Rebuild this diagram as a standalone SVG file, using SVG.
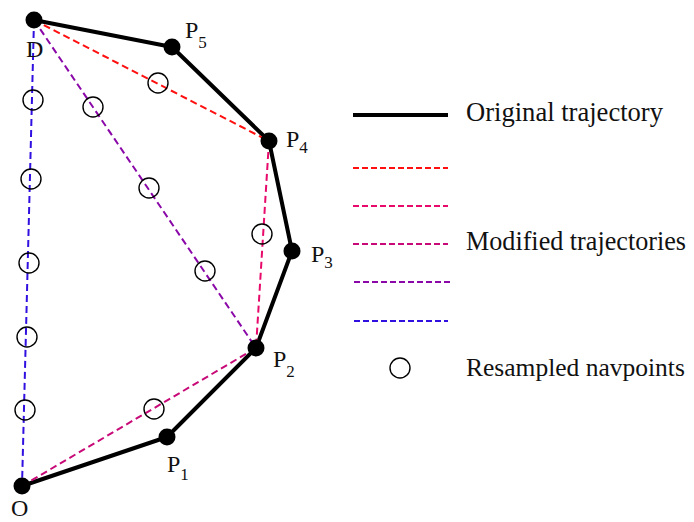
<svg xmlns="http://www.w3.org/2000/svg" width="694" height="522" viewBox="0 0 694 522">
<style>
.orig{stroke:#000;stroke-width:4;fill:none;stroke-linejoin:round}
.dash{stroke-width:2;fill:none;stroke-dasharray:7,4}
.ldash{stroke-width:1.8;fill:none;stroke-dasharray:6,3}
.red{stroke:#ff1010}
.pink{stroke:#e80a6a}
.crim{stroke:#c80a78}
.purp{stroke:#8a08a8}
.blue{stroke:#3010e0}
.nav{fill:none;stroke:#000;stroke-width:1.4}
.dot{fill:#000}
.lbl{font-family:"Liberation Serif","Times New Roman",serif;font-size:24px;fill:#111}
.sub{font-size:17px}
.leg{font-family:"Liberation Serif","Times New Roman",serif;font-size:27px;fill:#111}
</style>
<g id="connectors">
<polyline class="orig" points="22,486 167,437 256,348 292,251 269,141 172,47 34,20"/>
<line class="dash red" x1="34" y1="20" x2="269" y2="141"/>
<line class="dash pink" x1="269" y1="141" x2="256" y2="348"/>
<line class="dash crim" x1="22" y1="486" x2="256" y2="348"/>
<line class="dash purp" x1="34" y1="20" x2="256" y2="348"/>
<line class="dash blue" x1="34" y1="20" x2="22" y2="486"/>
</g>
<g id="navpoints">
<circle class="nav" cx="158" cy="83" r="10"/>
<circle class="nav" cx="33" cy="100" r="10"/>
<circle class="nav" cx="93" cy="107" r="10"/>
<circle class="nav" cx="31" cy="179" r="10"/>
<circle class="nav" cx="149" cy="188" r="10"/>
<circle class="nav" cx="29" cy="263" r="10"/>
<circle class="nav" cx="205" cy="271" r="10"/>
<circle class="nav" cx="262" cy="234" r="10"/>
<circle class="nav" cx="27" cy="337" r="10"/>
<circle class="nav" cx="25" cy="410" r="10"/>
<circle class="nav" cx="154" cy="409" r="10"/>
</g>
<g id="node-D"><circle class="dot" cx="34" cy="20" r="8.5"/><text class="lbl" x="26" y="57">D</text></g>
<g id="node-P5"><circle class="dot" cx="172" cy="47" r="8.5"/><text class="lbl" x="185" y="38">P<tspan class="sub" dy="10">5</tspan></text></g>
<g id="node-P4"><circle class="dot" cx="269" cy="141" r="8.5"/><text class="lbl" x="286" y="147">P<tspan class="sub" dy="6">4</tspan></text></g>
<g id="node-P3"><circle class="dot" cx="292" cy="251" r="8.5"/><text class="lbl" x="311" y="262">P<tspan class="sub" dy="6">3</tspan></text></g>
<g id="node-P2"><circle class="dot" cx="256" cy="348" r="8.5"/><text class="lbl" x="273" y="367">P<tspan class="sub" dy="10">2</tspan></text></g>
<g id="node-P1"><circle class="dot" cx="167" cy="437" r="8.5"/><text class="lbl" x="167" y="472">P<tspan class="sub" dy="8">1</tspan></text></g>
<g id="node-O"><circle class="dot" cx="22" cy="486" r="8.5"/><text class="lbl" x="11" y="516">O</text></g>
<g id="legend">
<line class="orig" x1="353" y1="115" x2="448" y2="115"/>
<text class="leg" x="466" y="121" textLength="197" lengthAdjust="spacingAndGlyphs">Original trajectory</text>
<line class="ldash red" x1="353" y1="168" x2="448" y2="168"/>
<line class="ldash pink" x1="353" y1="206" x2="448" y2="206"/>
<line class="ldash crim" x1="353" y1="244" x2="448" y2="244"/>
<text class="leg" x="466" y="250" textLength="220" lengthAdjust="spacingAndGlyphs">Modified trajectories</text>
<line class="ldash purp" x1="354" y1="282" x2="450" y2="282"/>
<line class="ldash blue" x1="354" y1="321" x2="448" y2="321"/>
<circle class="nav" cx="400" cy="368" r="10"/>
<text class="leg" x="466" y="376" style="font-size:25.5px">Resampled navpoints</text>
</g>
</svg>
